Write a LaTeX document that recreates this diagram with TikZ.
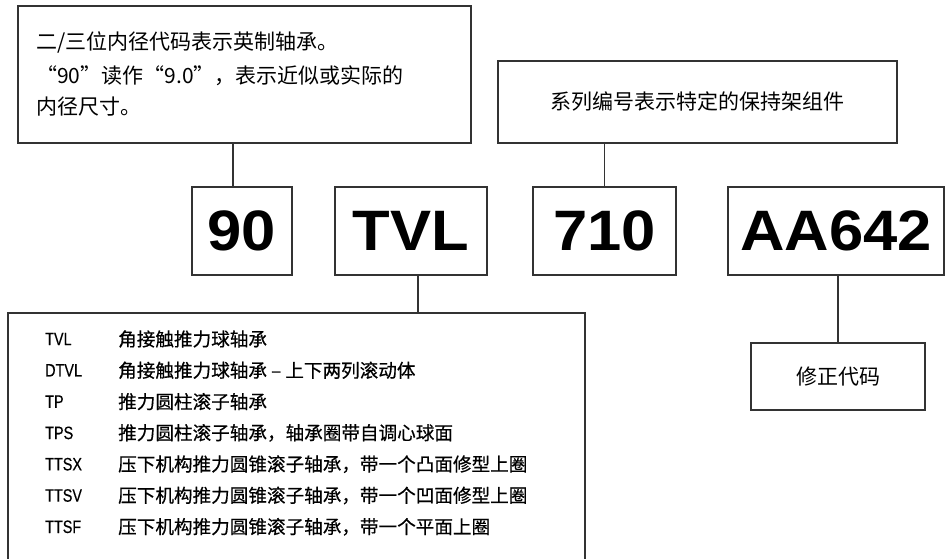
\documentclass[tikz,border=0pt]{standalone}
\usepackage{fontspec}
\setmainfont{Liberation Sans}
\newfontfamily\cjk{Noto Sans CJK SC}
\newfontfamily\cjkdark[FakeBold=0.5]{Noto Sans CJK SC}
\newfontfamily\narrow[FakeStretch=0.8,FakeBold=0.4]{Liberation Sans}
\newfontfamily\wide[FakeStretch=1.08]{Liberation Sans}
\usetikzlibrary{positioning}

\tikzset{
  box/.style={draw=black!80, line width=1.1pt, inner sep=0pt},
  link/.style={draw=black!80, line width=1.1pt},
  codebox/.style={box, minimum height=88, font=\wide\bfseries\fontsize{57}{57}\selectfont},
  note/.style={font=\cjk\fontsize{21}{21}\selectfont, inner sep=0pt},
  rowcode/.style={anchor=west, inner sep=0pt, font=\narrow\fontsize{18}{18}\selectfont},
  rowtext/.style={anchor=west, inner sep=0pt, font=\cjkdark\fontsize{18.6}{18.6}\selectfont},
}

\begin{document}
\begin{tikzpicture}[x=1pt, y=-1pt]
  \useasboundingbox (0,0) rectangle (945,559);

  % explanation boxes on top
  \node[box, minimum width=453, minimum height=137] (bore) at (244.5,74.5) {};
  \node[note, anchor=west] (bore1) at (36,42) {二/三位内径代码表示英制轴承。};
  \node[note, anchor=west] (bore2) at (36,76) {“90”读作“9.0”，表示近似或实际的};
  \node[note, anchor=west] (bore3) at (36,107) {内径尺寸。};
  \node[box, note, minimum width=399, minimum height=82] (series) at (697.5,102) {系列编号表示特定的保持架组件};

  % the code itself
  \node[codebox, minimum width=100] (n90) at (242,231) {90};
  \node[codebox, minimum width=152] (tvl) at (411,231) {TVL};
  \node[codebox, minimum width=143] (n710) at (604.5,231) {710};
  \node[codebox, minimum width=216] (aa) at (836,231) {AA642};

  % boxes below
  \node[box, minimum width=577, minimum height=262] (list) at (296.5,444) {};
  \node[box, note, minimum width=174, minimum height=67] (mod) at (838,376.5) {修正代码};

  \foreach \code/\desc [count=\i] in {
      TVL/角接触推力球轴承,
      DTVL/角接触推力球轴承 – 上下两列滚动体,
      TP/推力圆柱滚子轴承,
      TPS/推力圆柱滚子轴承，轴承圈带自调心球面,
      TTSX/压下机构推力圆锥滚子轴承，带一个凸面修型上圈,
      TTSV/压下机构推力圆锥滚子轴承，带一个凹面修型上圈,
      TTSF/压下机构推力圆锥滚子轴承，带一个平面上圈} {
    \node[rowcode] (code\i) at (45,{339+(\i-1)*31.3}) {\code};
    \node[rowtext] (desc\i) at (118,{339+(\i-1)*31.3}) {\desc};
  }

  \draw[link] (233,0 |- bore.south) -- (233,0 |- n90.north);
  \draw[link] (n710.north) -- (n710.north |- series.south);
  \draw[link] (418,0 |- tvl.south) -- (418,0 |- list.north);
  \draw[link] (aa.south -| mod.north) -- (mod.north);
\end{tikzpicture}
\end{document}
